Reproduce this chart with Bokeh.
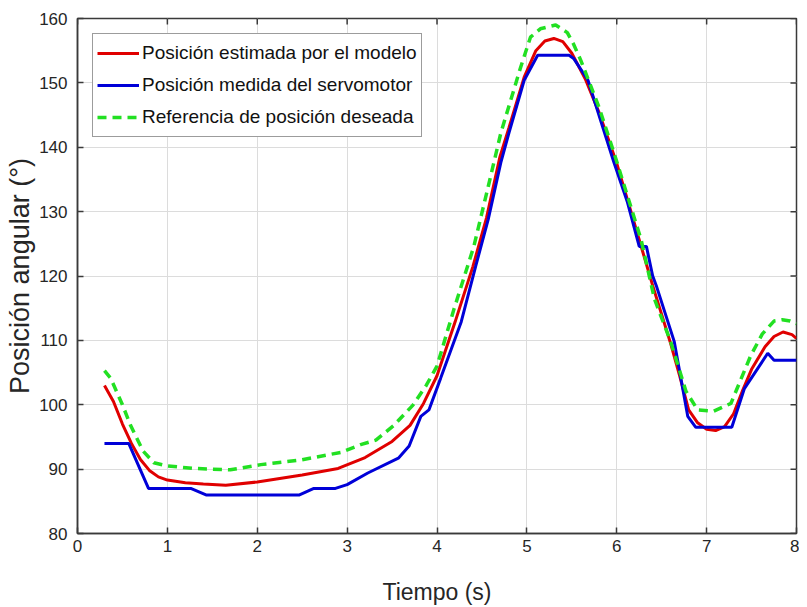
import math
from bokeh.plotting import figure
from bokeh.models import Legend, LegendItem, FixedTicker, Range1d
from bokeh.embed import file_html
from bokeh.resources import INLINE

# Posición estimada por el modelo
t_model = [0.3, 0.4, 0.5, 0.6, 0.7, 0.8, 0.9, 1.0, 1.2, 1.4, 1.65, 2.0, 2.5, 2.9, 3.2, 3.5,
           3.7, 3.85, 4.0, 4.2, 4.4, 4.55, 4.7, 4.8, 4.97, 5.1, 5.2, 5.3, 5.4, 5.5, 5.65,
           5.8, 6.0, 6.2, 6.4, 6.6, 6.7, 6.8, 6.9, 7.0, 7.1, 7.2, 7.3, 7.4, 7.5, 7.65, 7.75,
           7.85, 7.95, 8.0]
y_model = [103, 100.5, 97, 94, 91.5, 89.8, 88.8, 88.3, 87.9, 87.7, 87.5, 88.0, 89.1, 90.1,
           91.8, 94.3, 96.8, 100.2, 104.5, 112.8, 121.5, 129, 138.5, 143, 150.9, 155, 156.5,
           156.9, 156.4, 154.6, 150.6, 145.5, 137.5, 128, 118.5, 109.5, 104.5, 99.2, 97.2,
           96.2, 96.0, 96.6, 98.6, 102.2, 105.5, 109, 110.6, 111.3, 110.9, 110.3]

# Posición medida del servomotor
t_meas = [0.3, 0.57, 0.79, 1.26, 1.43, 2.47, 2.63, 2.87, 3.0, 3.23, 3.57, 3.69, 3.82, 3.91,
          4.04, 4.27, 4.43, 4.57, 4.71, 4.80, 4.97, 5.12, 5.47, 5.52, 5.68, 5.82, 5.97, 6.12,
          6.25, 6.33, 6.40, 6.44, 6.64, 6.79, 6.88, 7.28, 7.42, 7.68, 7.75, 8.0]
y_meas = [94, 94, 87, 87, 86, 86, 87, 87, 87.6, 89.4, 91.7, 93.6, 98.2, 99.2, 104.1, 112.9,
          121.5, 128.8, 137.6, 142.2, 150.4, 154.3, 154.3, 153.8, 150.4, 144.2, 137.6, 131.4,
          124.6, 124.6, 120, 118.5, 109.8, 98.2, 96.5, 96.5, 102.5, 108, 106.9, 106.9]

# Referencia de posición deseada
t_ref = [0.3, 0.37, 0.5, 0.59, 0.73, 0.85, 1.0, 1.3, 1.7, 2.04, 2.48, 2.93, 3.15, 3.32, 3.52,
         3.73, 3.88, 4.0, 4.19, 4.41, 4.57, 4.71, 4.93, 5.04, 5.15, 5.32, 5.45, 5.52, 5.60,
         5.80, 5.97, 6.12, 6.27, 6.42, 6.60, 6.77, 6.90, 7.08, 7.27, 7.49, 7.62, 7.75, 7.84,
         7.93, 8.0]
y_ref = [105.3, 104.1, 100, 96.8, 92.8, 91, 90.5, 90.1, 89.9, 90.7, 91.4, 92.6, 93.8, 94.5,
         96.8, 99.9, 103, 106, 114.9, 124.6, 133.9, 142.2, 152.4, 157.1, 158.4, 159, 157.8,
         156.0, 153.5, 146.3, 139.1, 132.4, 125.7, 116.4, 109.8, 102.1, 99.2, 99, 100.2,
         107.6, 111, 113, 113.2, 113, 112.6]

x_ticks = [0, 1, 2, 3, 4, 5, 6, 7, 8]
y_ticks = [80, 90, 100, 110, 120, 130, 140, 150, 160]

labels = ["Posición estimada por el modelo", "Posición medida del servomotor",
          "Referencia de posición deseada"]

FONT = "Liberation Sans"
AX = "#3a3a3a"

p = figure(width=799, height=607, output_backend="svg", toolbar_location=None,
           x_range=Range1d(0, 8), y_range=Range1d(80, 160),
           min_border_left=77, min_border_right=3, min_border_top=18, min_border_bottom=71,
           background_fill_color="white", border_fill_color="white")
p.outline_line_color = AX
p.outline_line_width = 1.5

for ax in (p.xaxis[0], p.yaxis[0]):
    ax.major_tick_in = 6
    ax.major_tick_out = 0
    ax.minor_tick_in = 0
    ax.minor_tick_out = 0
    ax.axis_line_color = AX
    ax.axis_line_width = 1.5
    ax.major_tick_line_color = AX
    ax.major_tick_line_width = 1.5
    ax.major_label_text_font = FONT
    ax.major_label_text_font_size = "17px"
    ax.major_label_text_color = "#262626"
    ax.axis_label_text_font = FONT
    ax.axis_label_text_font_style = "normal"
    ax.axis_label_text_color = "#262626"

p.xaxis[0].ticker = FixedTicker(ticks=x_ticks)
p.yaxis[0].ticker = FixedTicker(ticks=y_ticks)
p.xaxis[0].axis_label = "Tiempo (s)"
p.yaxis[0].axis_label = "Posición angular (°)"
p.xaxis[0].axis_label_text_font_size = "23px"
p.yaxis[0].axis_label_text_font_size = "27px"
p.xaxis[0].major_label_standoff = 6
p.xaxis[0].axis_label_standoff = 24
p.yaxis[0].major_label_standoff = 10
p.yaxis[0].axis_label_standoff = 1

# inward ticks on the top and right edges of the box
p.ray(x=x_ticks, y=[160] * len(x_ticks), length=6, length_units="screen",
      angle=-math.pi / 2, line_color=AX, line_width=1.5)
p.ray(x=[8] * len(y_ticks), y=y_ticks, length=6, length_units="screen",
      angle=math.pi, line_color=AX, line_width=1.5)

p.xgrid.ticker = FixedTicker(ticks=x_ticks)
p.ygrid.ticker = FixedTicker(ticks=y_ticks)
p.grid.grid_line_color = "#dcdcdc"
p.grid.grid_line_width = 1

r_model = p.line(t_model, y_model, line_color="#e00000", line_width=3)
r_meas = p.line(t_meas, y_meas, line_color="#0000d8", line_width=3)
r_ref = p.line(t_ref, y_ref, line_color="#22e022", line_width=3.5, line_dash="9 6")

legend = Legend(items=[LegendItem(label=labels[0], renderers=[r_model]),
                       LegendItem(label=labels[1], renderers=[r_meas]),
                       LegendItem(label=labels[2], renderers=[r_ref])],
                location="top_left", margin=15, padding=4, spacing=2,
                glyph_width=42, glyph_height=30, label_height=30, label_standoff=3,
                label_text_font=FONT, label_text_font_size="19px", label_text_color="#111111",
                border_line_color=AX, border_line_width=1.5, background_fill_alpha=1)
p.add_layout(legend, "center")

open("out.html", "w").write(file_html(p, INLINE))
